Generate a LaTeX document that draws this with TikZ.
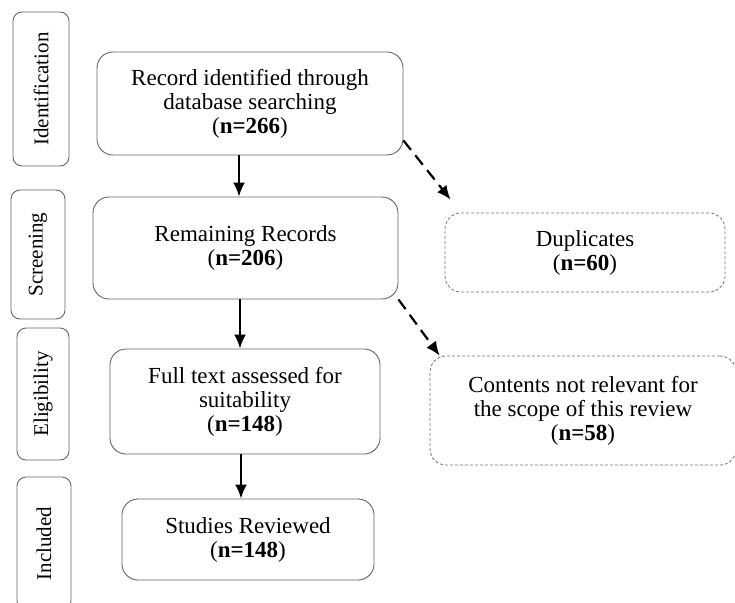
\documentclass[tikz,border=0pt]{standalone}
\usepackage{fontspec}
\setmainfont{Liberation Serif}
\usetikzlibrary{arrows.meta,positioning}

\begin{document}
\begin{tikzpicture}[
  x=1pt, y=-1pt,
  font=\fontsize{23}{24}\selectfont,
  stage/.style={draw=black!60, line width=0.9pt, rounded corners=9pt, rotate=90, font=\fontsize{21}{24}\selectfont},
  module/.style={draw=black!60, line width=0.9pt, rounded corners=16pt, align=center},
  excl/.style={draw=black!55, line width=0.8pt, dash pattern=on 3pt off 2pt, rounded corners=16pt, align=center},
  flow/.style={-{Latex[length=14pt,width=12pt]}, line width=2.2pt},
  aux/.style={-{Latex[length=14pt,width=12pt]}, line width=2.2pt, dash pattern=on 12pt off 7pt}
]
\useasboundingbox (0,0) rectangle (735,602);

% stages on the left
\node[stage, minimum width=154pt, minimum height=56pt] (ident) at (41,89) {Identification};
\node[stage, minimum width=129pt, minimum height=54pt] (screen) at (38,254.5) {Screening};
\node[stage, minimum width=132pt, minimum height=52pt] (elig) at (43,394) {Eligibility};
\node[stage, minimum width=133pt, minimum height=54pt] (incl) at (44,543.5) {Included};

% main flow
\node[module, minimum width=306pt, minimum height=103pt] (rec) at (250,103.5) {Record identified through\\database searching\\(\textbf{n=266})};
\node[module, minimum width=305pt, minimum height=102pt] (rem) at (245.5,248) {Remaining Records\\(\textbf{n=206})};
\node[module, minimum width=270pt, minimum height=105pt] (full) at (245,401.5) {Full text assessed for\\suitability\\(\textbf{n=148})};
\node[module, minimum width=252pt, minimum height=81pt] (stud) at (248,539.5) {Studies Reviewed\\(\textbf{n=148})};

% excluded records
\node[excl, minimum width=280pt, minimum height=79pt] (dup) at (585,252.5) {Duplicates\\(\textbf{n=60})};
\node[excl, minimum width=306pt, minimum height=109pt] (cont) at (583,410.5) {Contents not relevant for\\the scope of this review\\(\textbf{n=58})};

\draw[flow] ([xshift=-11pt]rec.south) -- ([xshift=-11pt]rec.south |- rem.north);
\draw[flow] ([xshift=-5.5pt]rem.south) -- ([xshift=-5.5pt]rem.south |- full.north);
\draw[flow] ([xshift=-4pt]full.south) -- ([xshift=-4pt]full.south |- stud.north);

\draw[aux] ([yshift=15pt]rec.south east) -- ([xshift=6pt,yshift=13pt]dup.north west);
\draw[aux] (rem.south east) -- ([xshift=10pt]cont.north west);
\end{tikzpicture}
\end{document}
